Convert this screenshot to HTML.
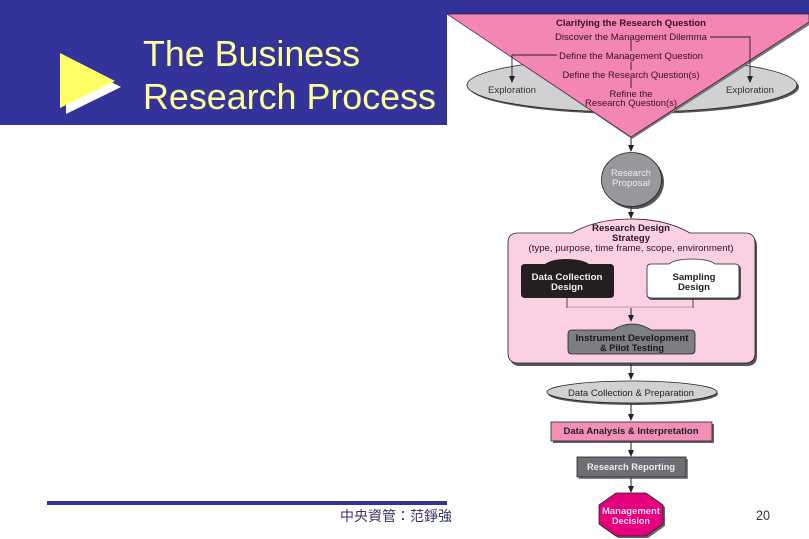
<!DOCTYPE html>
<html>
<head>
<meta charset="utf-8">
<style>
html,body{margin:0;padding:0;background:#fff;width:809px;height:539px;overflow:hidden}
svg{display:block}
text{font-family:"Liberation Sans","Noto Sans CJK TC",sans-serif}
</style>
</head>
<body>
<svg width="809" height="539" viewBox="0 0 809 539" xmlns="http://www.w3.org/2000/svg">
<defs>
<g id="ah"><path d="M-3,-7 L3,-7 L0,0 Z" fill="#222"/></g>
</defs>
<rect width="809" height="539" fill="#fff"/>
<!-- header -->
<rect x="0" y="0" width="447" height="125" fill="#333399"/>
<rect x="447" y="0" width="362" height="14" fill="#333399"/>
<polygon points="66,59 121,87 66,114" fill="#fff"/>
<polygon points="60,53 115,81 60,108" fill="#ffff66"/>
<text x="143" y="66" font-size="36" textLength="217" lengthAdjust="spacingAndGlyphs" fill="#ffff99">The Business</text>
<text x="143" y="109" font-size="36" textLength="293" lengthAdjust="spacingAndGlyphs" fill="#ffff99">Research Process</text>
<!-- footer -->
<rect x="47" y="501" width="400" height="4" fill="#333399"/>
<text x="340" y="521" font-size="14" fill="#333366">中央資管：范錚強</text>
<text x="756" y="520" font-size="14" textLength="14" lengthAdjust="spacingAndGlyphs" fill="#333333">20</text>

<!-- exploration ellipse -->
<ellipse cx="634" cy="87" rx="165" ry="27" fill="#555"/>
<ellipse cx="632" cy="85" rx="165" ry="27" fill="#cfd1d3" stroke="#222" stroke-width="0.8"/>
<!-- triangle -->
<polygon points="449,14 632,139 811,24 809,14" fill="#777"/>
<polygon points="447,14 809,14 809,22 631,137" fill="#f386b4" stroke="#3a1a2a" stroke-width="0.7"/>
<text x="631" y="26" font-size="9.5" font-weight="bold" text-anchor="middle" textLength="150" lengthAdjust="spacingAndGlyphs" fill="#3a1026">Clarifying the Research Question</text>
<text x="631" y="40" font-size="9.5" text-anchor="middle" textLength="152" lengthAdjust="spacingAndGlyphs" fill="#3a1026">Discover the Management Dilemma</text>
<text x="631" y="59" font-size="9.5" text-anchor="middle" textLength="144" lengthAdjust="spacingAndGlyphs" fill="#3a1026">Define the Management Question</text>
<text x="631" y="78" font-size="9.5" text-anchor="middle" textLength="137" lengthAdjust="spacingAndGlyphs" fill="#3a1026">Define the Research Question(s)</text>
<text x="631" y="97" font-size="9.5" text-anchor="middle" textLength="43" lengthAdjust="spacingAndGlyphs" fill="#3a1026">Refine the</text>
<text x="631" y="106" font-size="9.5" text-anchor="middle" textLength="92" lengthAdjust="spacingAndGlyphs" fill="#3a1026">Research Question(s)</text>
<text x="512" y="93" font-size="9.5" text-anchor="middle" textLength="48" lengthAdjust="spacingAndGlyphs" fill="#333">Exploration</text>
<text x="750" y="93" font-size="9.5" text-anchor="middle" textLength="48" lengthAdjust="spacingAndGlyphs" fill="#333">Exploration</text>
<g fill="none" stroke="#222" stroke-width="0.9">
<path d="M710,37 H750 V78"/>
<path d="M557,55 H512 V78"/>
<path d="M631,40 V51 M631,62 V70 M631,78 V88"/>
</g>
<use href="#ah" x="750" y="83"/>
<use href="#ah" x="512" y="83"/>

<!-- arrow to proposal -->
<path d="M631,138 V148" stroke="#222" stroke-width="1"/>
<use href="#ah" x="631" y="152"/>
<!-- circle -->
<ellipse cx="634" cy="182" rx="30" ry="27" fill="#555"/>
<ellipse cx="631.5" cy="179.5" rx="30" ry="27" fill="#97979c" stroke="#222" stroke-width="0.8"/>
<text x="631" y="176" font-size="9.5" text-anchor="middle" textLength="40" lengthAdjust="spacingAndGlyphs" fill="#eee">Research</text>
<text x="631" y="186" font-size="9.5" text-anchor="middle" textLength="38" lengthAdjust="spacingAndGlyphs" fill="#eee">Proposal</text>
<path d="M631,207 V214" stroke="#222" stroke-width="1"/>
<use href="#ah" x="631" y="219"/>

<!-- design strategy -->
<path d="M518,233 H572 Q596,219 631,219 Q666,219 690,233 H745 Q755,233 755,243 V353 Q755,363 745,363 H518 Q508,363 508,353 V243 Q508,233 518,233 Z" fill="#555" transform="translate(2,3)"/>
<path d="M518,233 H572 Q596,219 631,219 Q666,219 690,233 H745 Q755,233 755,243 V353 Q755,363 745,363 H518 Q508,363 508,353 V243 Q508,233 518,233 Z" fill="#fbd0e3" stroke="#222" stroke-width="0.8"/>
<text x="631" y="231" font-size="9.5" font-weight="bold" text-anchor="middle" textLength="78" lengthAdjust="spacingAndGlyphs" fill="#2a1520">Research Design</text>
<text x="631" y="241" font-size="9.5" font-weight="bold" text-anchor="middle" textLength="38" lengthAdjust="spacingAndGlyphs" fill="#2a1520">Strategy</text>
<text x="631" y="251" font-size="9.5" text-anchor="middle" textLength="205" lengthAdjust="spacingAndGlyphs" fill="#2a1520">(type, purpose, time frame, scope, environment)</text>

<!-- data collection -->
<path d="M525,264 H545 Q552,259 566,259 Q582,259 589,264 H610 Q614,264 614,268 V294 Q614,298 610,298 H525 Q521,298 521,294 V268 Q521,264 525,264 Z" fill="#231f20"/>
<text x="567" y="280" font-size="9.5" font-weight="bold" text-anchor="middle" textLength="71" lengthAdjust="spacingAndGlyphs" fill="#eee">Data Collection</text>
<text x="567" y="290" font-size="9.5" font-weight="bold" text-anchor="middle" textLength="32" lengthAdjust="spacingAndGlyphs" fill="#eee">Design</text>
<!-- sampling -->
<path d="M652,265 H670 Q676,260 693,260 Q710,260 716,265 H736 Q741,265 741,269 V296 Q741,300 736,300 H652 Q648,300 648,296 V269 Q648,265 652,265 Z" fill="#555"/>
<path d="M651,264 H669 Q675,259 692,259 Q709,259 715,264 H735 Q739,264 739,268 V294 Q739,298 735,298 H651 Q647,298 647,294 V268 Q647,264 651,264 Z" fill="#fff" stroke="#222" stroke-width="0.8"/>
<text x="694" y="280" font-size="9.5" font-weight="bold" text-anchor="middle" textLength="43" lengthAdjust="spacingAndGlyphs" fill="#222">Sampling</text>
<text x="694" y="290" font-size="9.5" font-weight="bold" text-anchor="middle" textLength="32" lengthAdjust="spacingAndGlyphs" fill="#222">Design</text>
<g fill="none" stroke="#222" stroke-width="0.8">
<path d="M567,298 V308 M693,298 V308"/>
<path d="M567,307 H693" stroke="#8a6a78" stroke-width="0.6"/>
<path d="M631,308 V318" stroke-width="1"/>
</g>
<use href="#ah" x="631" y="322"/>
<!-- instrument -->
<path d="M572,330 H613 Q622,324 632,324 Q642,324 651,330 H691 Q695,330 695,334 V350 Q695,354 691,354 H572 Q568,354 568,350 V334 Q568,330 572,330 Z" fill="#7d7e84" stroke="#222" stroke-width="0.8"/>
<text x="632" y="341" font-size="9.5" font-weight="bold" text-anchor="middle" textLength="113" lengthAdjust="spacingAndGlyphs" fill="#1a1a1a">Instrument Development</text>
<text x="632" y="351" font-size="9.5" font-weight="bold" text-anchor="middle" textLength="64" lengthAdjust="spacingAndGlyphs" fill="#1a1a1a">&amp; Pilot Testing</text>

<path d="M631,364 V376" stroke="#222" stroke-width="1"/>
<use href="#ah" x="631" y="380"/>
<!-- data collection ellipse -->
<ellipse cx="633" cy="394" rx="85" ry="11" fill="#555"/>
<ellipse cx="632" cy="392" rx="85" ry="11" fill="#cfd1d3" stroke="#222" stroke-width="0.8"/>
<text x="631" y="396" font-size="9.5" text-anchor="middle" textLength="126" lengthAdjust="spacingAndGlyphs" fill="#222">Data Collection &amp; Preparation</text>

<path d="M631,404 V416" stroke="#222" stroke-width="1"/>
<use href="#ah" x="631" y="421"/>
<!-- analysis -->
<rect x="553" y="424" width="161" height="19" fill="#666"/>
<rect x="551" y="422" width="161" height="19" fill="#f48fb8" stroke="#222" stroke-width="0.8"/>
<text x="631" y="434" font-size="9.5" font-weight="bold" text-anchor="middle" textLength="135" lengthAdjust="spacingAndGlyphs" fill="#222">Data Analysis &amp; Interpretation</text>

<path d="M631,442 V452" stroke="#222" stroke-width="1"/>
<use href="#ah" x="631" y="457"/>
<!-- reporting -->
<rect x="579" y="459" width="109" height="20" fill="#888"/>
<rect x="577" y="457" width="109" height="20" fill="#6e6f74" stroke="#222" stroke-width="0.8"/>
<text x="631" y="470" font-size="9.5" font-weight="bold" text-anchor="middle" textLength="88" lengthAdjust="spacingAndGlyphs" fill="#eee">Research Reporting</text>

<path d="M631,478 V488" stroke="#222" stroke-width="1"/>
<use href="#ah" x="631" y="493"/>
<!-- octagon -->
<polygon points="618,495 648,495 665,507 665,526 648,538 618,538 601,526 601,507" fill="#666"/>
<polygon points="616,493 646,493 663,505 663,524 646,536 616,536 599,524 599,505" fill="#e6007e" stroke="#222" stroke-width="0.8"/>
<text x="631" y="514" font-size="9.5" font-weight="bold" text-anchor="middle" textLength="58" lengthAdjust="spacingAndGlyphs" fill="#f7d9ea">Management</text>
<text x="631" y="524" font-size="9.5" font-weight="bold" text-anchor="middle" textLength="38" lengthAdjust="spacingAndGlyphs" fill="#f7d9ea">Decision</text>
</svg>
</body>
</html>
